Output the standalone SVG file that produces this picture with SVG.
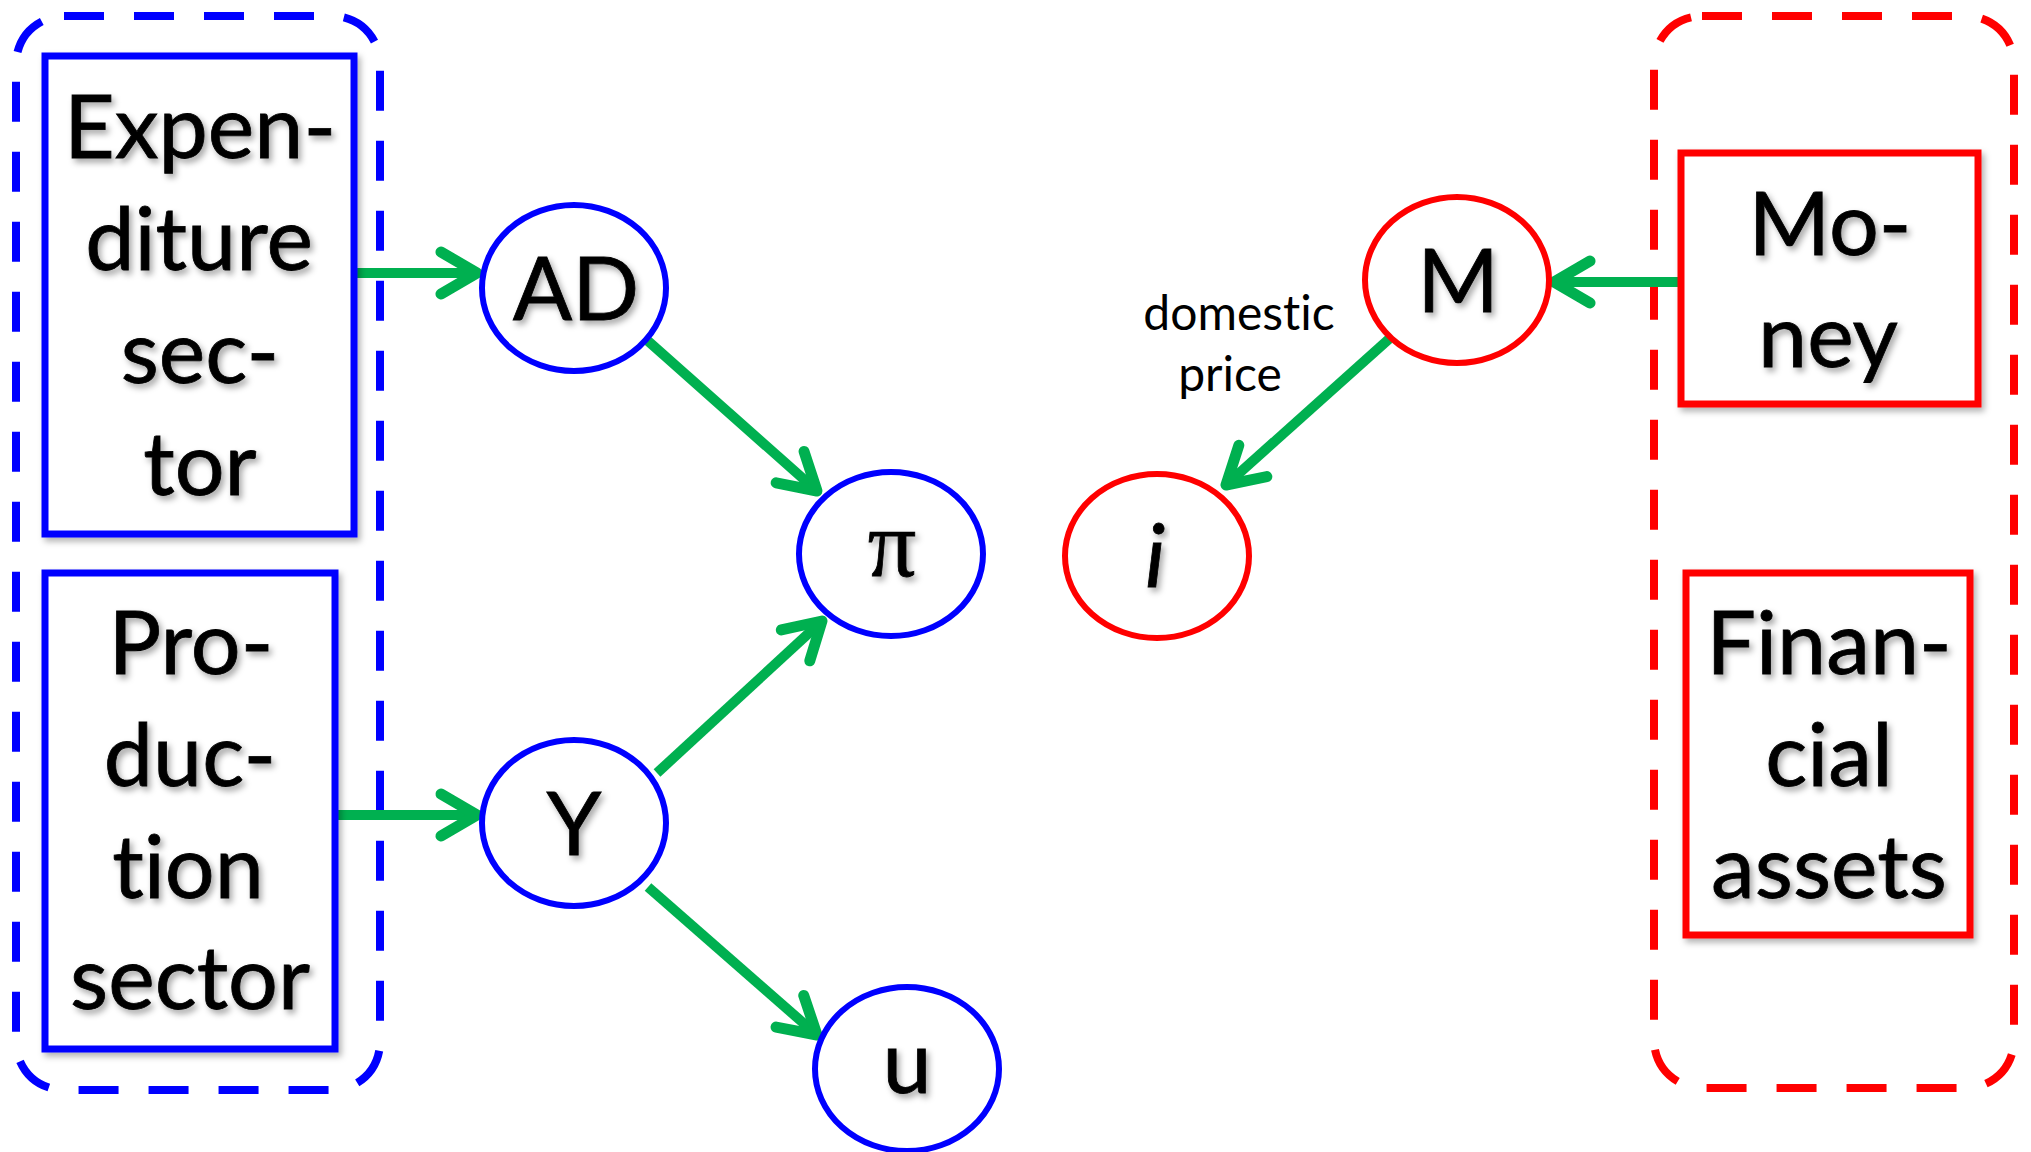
<svg xmlns="http://www.w3.org/2000/svg" width="2031" height="1152" viewBox="0 0 2031 1152">
<defs>
<style>
text{font-variant-ligatures:none;font-feature-settings:"liga" 0,"clig" 0}
.big{font-family:Lato,"Liberation Sans",sans-serif;font-size:88px;fill:#000;text-anchor:middle;filter:url(#tsh);stroke:#000;stroke-width:0.8}
.lbl{font-family:Lato,"Liberation Sans",sans-serif;font-size:48px;fill:#000;text-anchor:middle}
.bluebox{fill:#fff;stroke:#0000FF;stroke-width:7;filter:url(#bsh)}
.redbox{fill:#fff;stroke:#FF0000;stroke-width:7;filter:url(#bsh)}
.bnode{fill:#fff;stroke:#0000FF;stroke-width:6}
.rnode{fill:#fff;stroke:#FF0000;stroke-width:6}
.bgrp{fill:none;stroke:#0000FF;stroke-width:8;stroke-dasharray:40 30}
.rgrp{fill:none;stroke:#FF0000;stroke-width:8;stroke-dasharray:40 30}
.edge{fill:none;stroke:#00B050;stroke-width:10;marker-end:url(#arr)}
</style>
<filter id="tsh" x="-20%" y="-20%" width="140%" height="140%">
<feDropShadow dx="3" dy="4" stdDeviation="3" flood-color="#000" flood-opacity="0.35"/>
</filter>
<filter id="bsh" x="-10%" y="-10%" width="120%" height="120%">
<feDropShadow dx="3" dy="4" stdDeviation="3" flood-color="#000" flood-opacity="0.3"/>
</filter>
<marker id="arr" markerUnits="userSpaceOnUse" viewBox="-50 -30 60 60" markerWidth="60" markerHeight="60" refX="0" refY="0" orient="auto">
<path d="M-36,-21 L0,0 L-36,21" fill="none" stroke="#00B050" stroke-width="11" stroke-linecap="round" stroke-linejoin="round"/>
</marker>
</defs>
<rect width="2031" height="1152" fill="#fff"/>

<g id="group-real">
<rect class="bgrp" x="16" y="16" width="364" height="1074" rx="48" ry="48"/>
</g>
<g id="group-money">
<rect class="rgrp" x="1654" y="16" width="360" height="1072" rx="48" ry="48"/>
</g>

<g id="connectors">
<line class="edge" x1="354" y1="273" x2="477" y2="273"/>
<line class="edge" x1="648" y1="341" x2="817" y2="491"/>
<line class="edge" x1="335" y1="815" x2="477" y2="815"/>
<line class="edge" x1="657" y1="773" x2="822" y2="621"/>
<line class="edge" x1="648" y1="887" x2="817" y2="1035"/>
<line class="edge" x1="1681" y1="282" x2="1554" y2="282"/>
<line class="edge" x1="1389" y1="339" x2="1226" y2="485"/>
</g>

<g id="expenditure">
<rect class="bluebox" x="45" y="56" width="309" height="478"/>
<text class="big" x="200" y="158">Expen-</text>
<text class="big" x="199" y="270">diture</text>
<text class="big" x="200" y="383">sec-</text>
<text class="big" x="200" y="495">tor</text>
</g>
<g id="production">
<rect class="bluebox" x="45" y="573" width="290" height="476"/>
<text class="big" x="191" y="674">Pro-</text>
<text class="big" x="190" y="786">duc-</text>
<text class="big" x="188" y="898">tion</text>
<text class="big" x="190" y="1009">sector</text>
</g>
<g id="money">
<rect class="redbox" x="1681" y="153" width="297" height="251"/>
<text class="big" x="1830" y="255">Mo-</text>
<text class="big" x="1828" y="367">ney</text>
</g>
<g id="financial">
<rect class="redbox" x="1686" y="573" width="284" height="362"/>
<text class="big" x="1829" y="674">Finan-</text>
<text class="big" x="1829" y="786">cial</text>
<text class="big" x="1829" y="898">assets</text>
</g>

<g id="AD">
<ellipse class="bnode" cx="574" cy="288" rx="92" ry="83"/>
<text class="big" x="576" y="320">AD</text>
</g>
<g id="pi">
<ellipse class="bnode" cx="891" cy="554" rx="92" ry="82"/>
<text class="big" x="892" y="576" style="font-family:'Liberation Serif',serif;font-size:96px">π</text>
</g>
<g id="Y">
<ellipse class="bnode" cx="574" cy="823" rx="92" ry="83"/>
<text class="big" x="574" y="855">Y</text>
</g>
<g id="u">
<ellipse class="bnode" cx="907" cy="1069" rx="92" ry="82"/>
<text class="big" x="907" y="1093">u</text>
</g>
<g id="M">
<ellipse class="rnode" cx="1457" cy="280" rx="92" ry="83"/>
<text class="big" x="1458" y="312">M</text>
</g>
<g id="i">
<ellipse class="rnode" cx="1157" cy="556" rx="92" ry="82"/>
<text class="big" x="1155" y="587" style="font-style:italic">i</text>
</g>
<g id="label-domestic-price">
<text class="lbl" x="1239" y="330">domestic</text>
<text class="lbl" x="1230" y="391">price</text>
</g>
</svg>
